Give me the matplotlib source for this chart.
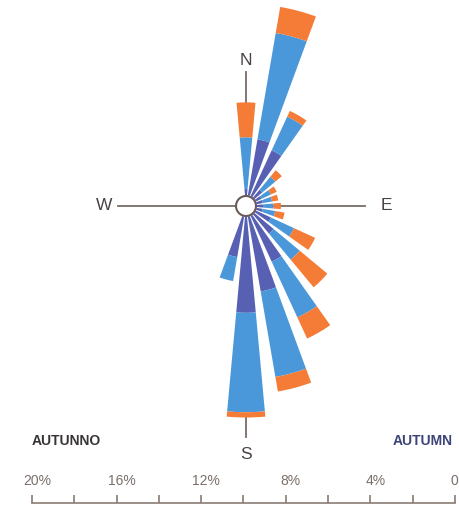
import numpy as np
import matplotlib
matplotlib.use("Agg")
import matplotlib.pyplot as plt
import matplotlib.transforms as mtrans

plt.rcParams['font.family'] = ['Liberation Sans', 'DejaVu Sans']

# ---- data (percent frequency by direction, stacked by speed class) ----
directions = [0, 15, 30, 45, 60, 75, 90, 105, 120, 135, 150, 165, 180, 195]
dark   = [0.8, 3.2, 2.9, 1.0, 0.8, 0.8, 0.8, 0.8, 1.3, 1.7, 2.9, 4.1, 5.05, 2.45]
light  = [2.45, 5.1, 1.75, 0.8, 0.5, 0.45, 0.5, 0.6, 1.2, 1.6, 2.9, 4.1, 4.7, 1.15]
orange = [1.65, 1.25, 0.3, 0.4, 0.3, 0.3, 0.35, 0.45, 1.1, 1.7, 1.1, 0.7, 0.25, 0.0]
scale_ticks = [20, 16, 12, 8, 4, 0]
scale_labels = ['20%', '16%', '12%', '8%', '4%', '0']
scale_minor = [18, 14, 10, 6, 2]

DARK = '#5760b2'
LIGHT = '#4a98da'
ORANGE = '#f47c36'
LINE = '#7a6c68'
TXT = '#4a4242'

W, H = 459, 517
fig = plt.figure(figsize=(W / 100, H / 100), dpi=100)
fig.patch.set_facecolor('white')

cx, cy = 246, H - 206
pxper = 21.15
rmax = 11.0
R = rmax * pxper
ax = fig.add_axes([(cx - R) / W, (cy - R) / H, 2 * R / W, 2 * R / H], projection='polar')
ax.set_theta_zero_location('N')
ax.set_theta_direction(-1)
ax.set_ylim(0, rmax)
ax.axis('off')

theta = np.deg2rad(directions)
width = np.deg2rad(10.5)
d = np.array(dark)
l = np.array(light)
o = np.array(orange)
ax.bar(theta, d, width, bottom=0, color=DARK, edgecolor='none', zorder=3, clip_on=False)
ax.bar(theta, l, width, bottom=d, color=LIGHT, edgecolor='none', zorder=3, clip_on=False)
ax.bar(theta, o, width, bottom=d + l, color=ORANGE, edgecolor='none', zorder=3, clip_on=False)

# compass cross lines
lw = 1.3
ax.plot([1.5 * np.pi] * 2, [0, 6.05], color=LINE, lw=lw, zorder=1, clip_on=False)
ax.plot([0.5 * np.pi] * 2, [0, 5.63], color=LINE, lw=lw, zorder=1, clip_on=False)
ax.plot([0, 0], [4.8, 6.34], color=LINE, lw=lw, zorder=1, clip_on=False)
ax.plot([np.pi] * 2, [9.9, 10.92], color=LINE, lw=lw, zorder=1, clip_on=False)

fs = 12.5
ax.text(0, 6.86, 'N', ha='center', va='center', fontsize=fs, color=TXT, clip_on=False)
ax.text(np.pi, 11.73, 'S', ha='center', va='center', fontsize=fs, color=TXT, clip_on=False)
ax.text(1.5 * np.pi, 6.72, 'W', ha='center', va='center', fontsize=fs, color=TXT, clip_on=False)
ax.text(0.5 * np.pi, 6.62, 'E', ha='center', va='center', fontsize=fs, color=TXT, clip_on=False)

# centre circle
t = np.linspace(0, 2 * np.pi, 200)
r0 = 10 / pxper
ax.fill(t, np.full_like(t, r0), color='white', zorder=5)
ax.plot(t, np.full_like(t, r0), color='#6b5b57', lw=1.5, zorder=6)

# scale ruler
ax2 = fig.add_axes([32 / W, 14 / H, 423 / W, 14 / H])
ax2.set_xlim(20, 0)
ax2.set_ylim(0, 1)
ax2.patch.set_alpha(0)
for s in ['top', 'left', 'right']:
    ax2.spines[s].set_visible(False)
ax2.spines['bottom'].set_color('#8a7b74')
ax2.spines['bottom'].set_linewidth(1.2)
ax2.set_yticks([])
ax2.set_xticks(scale_ticks)
ax2.set_xticklabels(scale_labels)
ax2.set_xticks(scale_minor, minor=True)
ax2.tick_params(axis='x', which='both', direction='in', length=6, width=1.2, color='#8a7b74',
                top=False, bottom=True, labelbottom=False, labeltop=True, pad=1,
                labelsize=10, labelcolor='#7a6f6a')
off = mtrans.ScaledTranslation(0.05, 0, fig.dpi_scale_trans)
labs = ax2.get_xticklabels()
for lab in labs[:-1]:
    lab.set_transform(lab.get_transform() + off)
off0 = mtrans.ScaledTranslation(-0.005, 0, fig.dpi_scale_trans)
labs[-1].set_transform(labs[-1].get_transform() + off0)

fig.text(32 / W, 1 - 441 / H, 'AUTUNNO', fontsize=10, fontweight='bold', color='#3a3535',
         ha='left', va='center')
fig.text(393 / W, 1 - 441 / H, 'AUTUMN', fontsize=10, fontweight='bold', color='#3d4478',
         ha='left', va='center')

fig.savefig('out.png', dpi=100, facecolor='white')
